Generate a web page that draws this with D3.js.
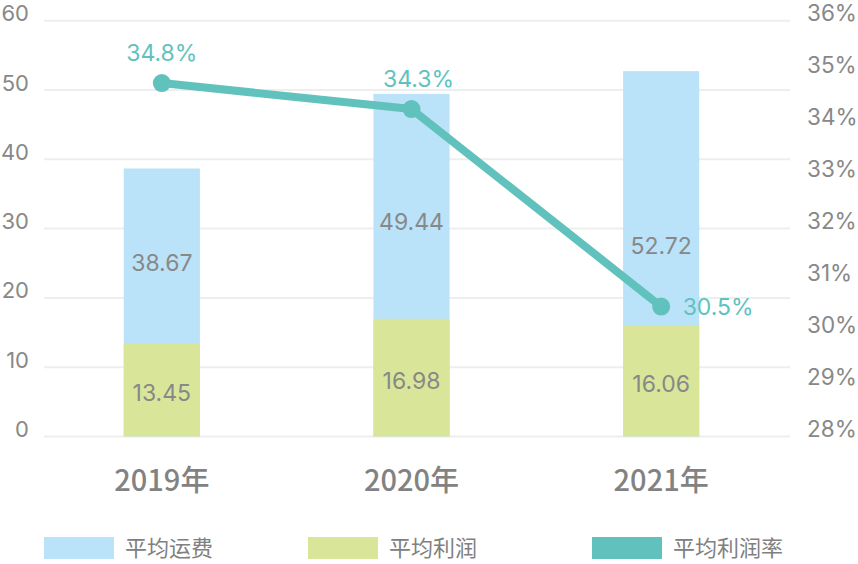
<!DOCTYPE html>
<html>
<head>
<meta charset="utf-8">
<script src="https://cdn.jsdelivr.net/npm/d3@7"></script>
<style>
  html, body { margin: 0; padding: 0; background: #ffffff; }
  svg { display: block; }
</style>
</head>
<body>
<svg id="chart" width="858" height="564"></svg>
<script>
// ---- data ----
const categories = ["2019年", "2020年", "2021年"];
const freight = [38.67, 49.44, 52.72];      // 平均运费
const profit = [13.45, 16.98, 16.06];       // 平均利润
const profitRate = [34.8, 34.3, 30.5];      // 平均利润率 (%)
const leftTicks = [0, 10, 20, 30, 40, 50, 60];
const rightTicks = [28, 29, 30, 31, 32, 33, 34, 35, 36];
const freightLabelAt = [25, 31, 27.5];      // where the freight value labels sit on the value axis
const seriesNames = ["平均运费", "平均利润", "平均利润率"];

// ---- styles ----
const C_BLUE = "#BAE3F9", C_GREEN = "#D9E69A", C_TEAL = "#61C2BD";
const C_TEXT = "#888888", C_GRID = "#EEEEEE";
const NUM_FONT = "Inter, 'Open Sans', sans-serif";
const CJK_FONT = "'Noto Sans CJK SC', sans-serif";
const LEGEND_X = [44, 308, 592];

const svg = d3.select("#chart");

const x = d3.scalePoint().domain(categories).range([37, 786]).padding(0.5);
const barW = x.step() * 0.305;
const y = d3.scaleLinear().domain([0, 60]).range([436.5, 20.7]);
const yR = d3.scaleLinear().domain([28, 36]).range([436.5, 20.7]);

// gridlines
svg.append("g").selectAll("line").data(leftTicks).join("line")
  .attr("x1", 44).attr("x2", 790)
  .attr("y1", d => y(d)).attr("y2", d => y(d))
  .attr("stroke", C_GRID).attr("stroke-width", 2);

// left axis labels
const leftAxis = d3.axisLeft(y).tickValues(leftTicks).tickSize(0).tickPadding(0);
const gL = svg.append("g").attr("transform", "translate(29,0)").call(leftAxis);
gL.select(".domain").remove();
gL.selectAll("text")
  .attr("font-family", NUM_FONT).attr("font-size", 22).attr("fill", C_TEXT)
  .attr("dy", "0em").attr("text-anchor", "end");

// right axis labels
const rightAxis = d3.axisRight(yR).tickValues(rightTicks).tickSize(0).tickPadding(0)
  .tickFormat(d => d + "%");
const gR = svg.append("g").attr("transform", "translate(807,0)").call(rightAxis);
gR.select(".domain").remove();
gR.selectAll("text")
  .attr("font-family", NUM_FONT).attr("font-size", 22.5).attr("fill", C_TEXT)
  .attr("dy", "0em").attr("text-anchor", "start");

// bars: freight (full height) then profit overlay
svg.append("g").selectAll("rect").data(freight).join("rect")
  .attr("x", (d, i) => x(categories[i]) - barW / 2)
  .attr("width", barW)
  .attr("y", d => y(d))
  .attr("height", d => y(0) - y(d))
  .attr("fill", C_BLUE);

svg.append("g").selectAll("rect").data(profit).join("rect")
  .attr("x", (d, i) => x(categories[i]) - barW / 2)
  .attr("width", barW)
  .attr("y", d => y(d))
  .attr("height", d => y(0) - y(d))
  .attr("fill", C_GREEN);

// bar value labels
svg.append("g").selectAll("text").data(freight).join("text")
  .attr("x", (d, i) => x(categories[i]))
  .attr("y", (d, i) => y(freightLabelAt[i]))
  .attr("dy", "0.35em")
  .attr("text-anchor", "middle")
  .attr("font-family", NUM_FONT).attr("font-size", 23).attr("fill", C_TEXT)
  .text(d => d.toFixed(2));

svg.append("g").selectAll("text").data(profit).join("text")
  .attr("x", (d, i) => x(categories[i]))
  .attr("y", d => (y(d) + y(0)) / 2)
  .attr("dy", "0.5em")
  .attr("text-anchor", "middle")
  .attr("font-family", NUM_FONT).attr("font-size", 23).attr("fill", C_TEXT)
  .text(d => d.toFixed(2));

// category labels
svg.append("g").selectAll("text").data(categories).join("text")
  .attr("x", d => x(d))
  .attr("y", 491)
  .attr("text-anchor", "middle")
  .attr("font-family", CJK_FONT).attr("font-size", 29).attr("font-weight", 500)
  .attr("fill", "#828282")
  .text(d => d);

// line
const line = d3.line()
  .x((d, i) => x(categories[i]))
  .y(d => yR(d));
svg.append("path").datum(profitRate)
  .attr("d", line)
  .attr("fill", "none").attr("stroke", C_TEAL).attr("stroke-width", 8)
  .attr("stroke-linejoin", "round");

svg.append("g").selectAll("circle").data(profitRate).join("circle")
  .attr("cx", (d, i) => x(categories[i]))
  .attr("cy", d => yR(d))
  .attr("r", 9)
  .attr("fill", C_TEAL);

// rate labels
svg.append("g").selectAll("text").data(profitRate).join("text")
  .attr("x", (d, i) => i === profitRate.length - 1 ? x(categories[i]) + 57 : x(categories[i]) + (i === 1 ? 7 : 0))
  .attr("y", (d, i) => i === profitRate.length - 1 ? yR(d) : yR(d) - 30)
  .attr("dy", "0.35em")
  .attr("text-anchor", "middle")
  .attr("font-family", NUM_FONT).attr("font-size", 23).attr("fill", C_TEAL)
  .text(d => d.toFixed(1) + "%");

// legend
const legendColors = [C_BLUE, C_GREEN, C_TEAL];
const lg = svg.append("g").selectAll("g").data(seriesNames).join("g")
  .attr("transform", (d, i) => `translate(${LEGEND_X[i]},537)`);
lg.append("rect").attr("width", 70).attr("height", 22)
  .attr("fill", (d, i) => legendColors[i]);
lg.append("text").attr("x", 81).attr("y", 11).attr("dy", "0.36em")
  .attr("font-family", CJK_FONT).attr("font-size", 22).attr("fill", "#808080")
  .text(d => d);
</script>
</body>
</html>
